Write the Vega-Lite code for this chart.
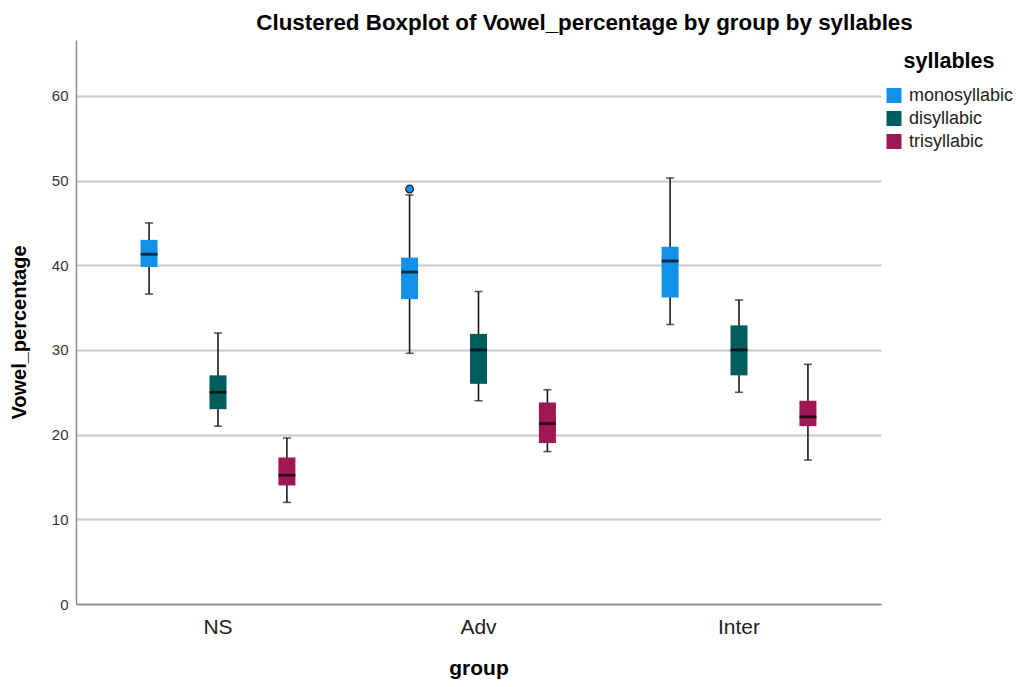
{
  "$schema": "https://vega.github.io/schema/vega-lite/v6.json",
  "width": 805,
  "height": 564,
  "autosize": "none",
  "padding": {"left": 76, "top": 40, "right": 135, "bottom": 83},
  "background": "white",
  "config": {
    "font": "Liberation Sans",
    "view": {"stroke": null}
  },
  "title": {
    "text": "Clustered Boxplot of Vowel_percentage by group by syllables",
    "fontSize": 22.4,
    "fontWeight": "bold",
    "color": "#000000",
    "anchor": "middle",
    "dx": 106,
    "offset": 6
  },
  "data": {
    "values": [
      {"group": "NS", "syllables": "monosyllabic", "lower": 36.6, "q1": 39.8, "median": 41.3, "q3": 43.0, "upper": 45.0},
      {"group": "NS", "syllables": "disyllabic", "lower": 21.0, "q1": 23.0, "median": 25.0, "q3": 27.0, "upper": 32.0},
      {"group": "NS", "syllables": "trisyllabic", "lower": 12.0, "q1": 14.0, "median": 15.2, "q3": 17.3, "upper": 19.6},
      {"group": "Adv", "syllables": "monosyllabic", "lower": 29.6, "q1": 36.0, "median": 39.2, "q3": 40.9, "upper": 48.3},
      {"group": "Adv", "syllables": "disyllabic", "lower": 24.0, "q1": 26.0, "median": 30.0, "q3": 31.9, "upper": 36.9},
      {"group": "Adv", "syllables": "trisyllabic", "lower": 18.0, "q1": 19.0, "median": 21.3, "q3": 23.8, "upper": 25.3},
      {"group": "Inter", "syllables": "monosyllabic", "lower": 33.0, "q1": 36.2, "median": 40.5, "q3": 42.2, "upper": 50.3},
      {"group": "Inter", "syllables": "disyllabic", "lower": 25.0, "q1": 27.0, "median": 30.0, "q3": 32.9, "upper": 35.9},
      {"group": "Inter", "syllables": "trisyllabic", "lower": 17.0, "q1": 21.0, "median": 22.1, "q3": 24.0, "upper": 28.3}
    ]
  },
  "encoding": {
    "x": {
      "field": "group",
      "type": "nominal",
      "scale": {"domain": ["NS", "Adv", "Inter"], "paddingInner": 0, "paddingOuter": 0.045},
      "axis": {
        "title": "group",
        "titleFontSize": 21,
        "titleFontWeight": "bold",
        "titleColor": "#000000",
        "titlePadding": 20,
        "labelFontSize": 21,
        "labelColor": "#222222",
        "labelAngle": 0,
        "labelPadding": 12,
        "ticks": false,
        "domainColor": "#8c8c8c",
        "domainWidth": 1.5,
        "grid": false
      }
    },
    "xOffset": {
      "field": "syllables",
      "type": "nominal",
      "scale": {"domain": ["monosyllabic", "disyllabic", "trisyllabic"], "paddingInner": 0, "paddingOuter": 0.39}
    }
  },
  "layer": [
    {
      "mark": {"type": "rule", "color": "#1a1a1a", "strokeWidth": 1.6},
      "encoding": {
        "y": {
          "field": "lower",
          "type": "quantitative",
          "scale": {"domain": [0, 66.6], "nice": false, "zero": true},
          "axis": {
            "title": "Vowel_percentage",
            "titleFontSize": 20,
            "titleFontWeight": "bold",
            "titleColor": "#000000",
            "titlePadding": 22,
            "titleY": 292,
            "values": [0, 10, 20, 30, 40, 50, 60],
            "labelFontSize": 15,
            "labelColor": "#333333",
            "labelPadding": 8,
            "ticks": false,
            "domainColor": "#8c8c8c",
            "domainWidth": 1.5,
            "grid": true,
            "gridColor": "#c8c8c8",
            "gridWidth": 2
          }
        },
        "y2": {"field": "upper"}
      }
    },
    {
      "mark": {"type": "tick", "color": "#1a1a1a", "size": 8, "thickness": 1.6},
      "encoding": {"y": {"field": "lower", "type": "quantitative"}}
    },
    {
      "mark": {"type": "tick", "color": "#1a1a1a", "size": 8, "thickness": 1.6},
      "encoding": {"y": {"field": "upper", "type": "quantitative"}}
    },
    {
      "mark": {"type": "bar", "size": 17, "strokeWidth": 1, "strokeOpacity": 0.5},
      "encoding": {
        "y": {"field": "q1", "type": "quantitative"},
        "y2": {"field": "q3"},
        "color": {
          "field": "syllables",
          "type": "nominal",
          "scale": {"domain": ["monosyllabic", "disyllabic", "trisyllabic"], "range": ["#1192e8", "#005d5d", "#9f1853"]},
          "legend": {
            "title": "syllables",
            "orient": "none",
            "legendX": 809,
            "legendY": 11,
            "titleFontSize": 21.5,
            "titleFontWeight": "bold",
            "titleColor": "#000000",
            "titleAnchor": "middle",
            "titlePadding": 14,
            "labelFontSize": 18,
            "labelColor": "#222222",
            "symbolType": "square",
            "symbolSize": 225,
            "symbolStrokeWidth": 0,
            "symbolOpacity": 1,
            "rowPadding": 5,
            "labelOffset": 6
          }
        }
      }
    },
    {
      "mark": {"type": "tick", "color": "#000000", "size": 17, "thickness": 2.8},
      "encoding": {"y": {"field": "median", "type": "quantitative"}}
    },
    {
      "data": {"values": [{"group": "Adv", "syllables": "monosyllabic", "value": 49.0}]},
      "mark": {"type": "point", "filled": true, "size": 60, "stroke": "#222222", "strokeWidth": 1.2, "fill": "#1192e8", "opacity": 1},
      "encoding": {"y": {"field": "value", "type": "quantitative"}}
    }
  ]
}
